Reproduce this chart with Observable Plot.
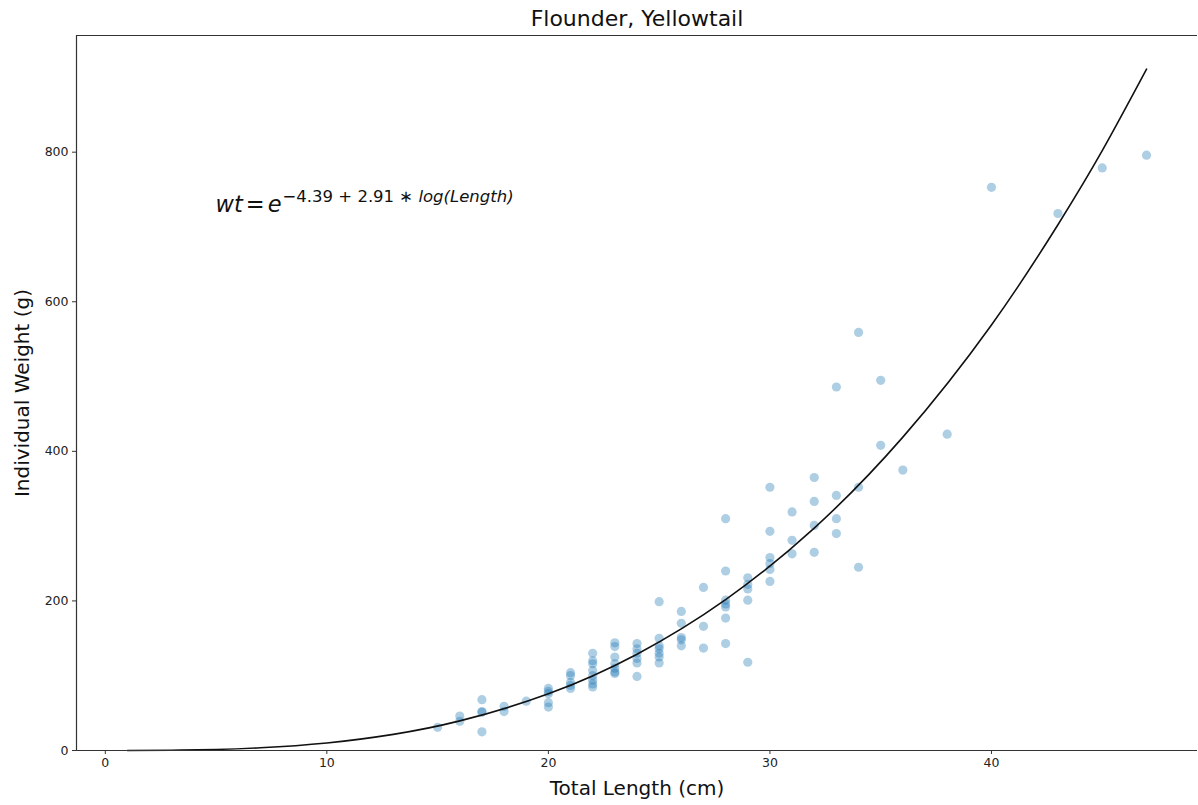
<!DOCTYPE html>
<html>
<head>
<meta charset="utf-8">
<script src="https://cdn.jsdelivr.net/npm/d3@7"></script>
<script src="https://cdn.jsdelivr.net/npm/@observablehq/plot@0.6"></script>
<style>
  html, body { margin: 0; padding: 0; background: #fff; }
  svg { font-family: "DejaVu Sans", sans-serif; }
</style>
</head>
<body>
<div id="chart"></div>
<script>
// Observed fish: total length (cm) and individual weight (g)
const lengths = [
  15,
  16, 16,
  17, 17, 17, 17,
  18, 18,
  19,
  20, 20, 20, 20, 20,
  21, 21, 21, 21, 21,
  22, 22, 22, 22, 22, 22, 22, 22,
  23, 23, 23, 23, 23, 23, 23,
  24, 24, 24, 24, 24, 24,
  25, 25, 25, 25, 25, 25, 25,
  26, 26, 26, 26, 26,
  27, 27, 27,
  28, 28, 28, 28, 28, 28, 28,
  29, 29, 29, 29, 29,
  30, 30, 30, 30, 30, 30,
  31, 31, 31,
  32, 32, 32, 32,
  33, 33, 33, 33,
  34, 34, 34,
  35, 35,
  36,
  38,
  40,
  43,
  45,
  47
];
const weights = [
  31,
  46, 39,
  68, 52, 51, 25,
  59, 52,
  66,
  83, 79, 76, 64, 58,
  104, 100, 91, 87, 83,
  130, 120, 116, 107, 100, 94, 89, 85,
  144, 139, 125, 116, 110, 105, 103,
  143, 136, 130, 123, 117, 99,
  199, 150, 140, 136, 130, 125, 117,
  186, 170, 151, 148, 140,
  218, 166, 137,
  310, 240, 201, 196, 192, 177, 143,
  231, 222, 216, 201, 118,
  352, 293, 258, 250, 242, 226,
  319, 281, 263,
  365, 333, 301, 265,
  486, 341, 310, 290,
  559, 352, 245,
  495, 408,
  375,
  423,
  753,
  718,
  779,
  796
];

const fitLengths = [1, 3, 5, 7, 10, 13, 16, 20, 24, 28, 32, 36, 40, 43, 45, 47];
const fitWeights = [0.01, 0.3, 1.3, 3.6, 10.1, 21.6, 39.6, 75.8, 128.8, 201.7, 297.4, 419, 569, 703, 802, 911];

const xTicks = [0, 10, 20, 30, 40];
const yTicks = [0, 200, 400, 600, 800];
const xDomain = [-1.3, 49.3];
const yDomain = [0, 956];

const titleText = "Flounder, Yellowtail";
const xLabel = "Total Length (cm)";
const yLabel = "Individual Weight (g)";
const eqPos = {x: 5, y: 720};

const points = lengths.map((l, i) => ({length: l, weight: weights[i]}));
const fit = fitLengths.map((l, i) => ({length: l, weight: fitWeights[i]}));

const spine = "#333333";

const plot = Plot.plot({
  width: 1198,
  height: 805,
  marginTop: 35,
  marginBottom: 55,
  marginLeft: 76,
  marginRight: 1,
  style: {fontFamily: "DejaVu Sans, sans-serif", background: "#fff", color: "#000"},
  x: {domain: xDomain, label: null},
  y: {domain: yDomain, label: null},
  marks: [
    Plot.dot(points, {x: "length", y: "weight", r: 4.6, fill: "#1f77b4", fillOpacity: 0.36, stroke: "none"}),
    Plot.line(fit, {x: "length", y: "weight", stroke: "#111", strokeWidth: 1.6, curve: "natural"}),
    Plot.ruleX([xDomain[0]], {stroke: spine, strokeWidth: 1.2}),
    Plot.ruleY([yDomain[0]], {stroke: spine, strokeWidth: 1.2}),
    Plot.ruleY([yDomain[1]], {stroke: spine, strokeWidth: 1.2}),
    Plot.axisX(xTicks, {tickSize: 4, tickPadding: 4, fontSize: 12.5, stroke: spine, fill: "#222", label: null}),
    Plot.axisY(yTicks, {tickSize: 4, tickPadding: 4, fontSize: 12.5, stroke: spine, fill: "#222", label: null}),
    Plot.text([titleText], {frameAnchor: "top", dy: -17, lineAnchor: "middle", fontSize: 22, fill: "#111"}),
    Plot.text([xLabel], {frameAnchor: "bottom", dy: 38, lineAnchor: "middle", fontSize: 20, fill: "#111"}),
    Plot.text([yLabel], {frameAnchor: "left", dx: -54, rotate: -90, textAnchor: "middle", lineAnchor: "middle", fontSize: 20, fill: "#111"})
  ]
});

// Equation annotation, positioned via the plot's own scales
const sx = plot.scale("x"), sy = plot.scale("y");
const ex = sx.apply(eqPos.x), ey = sy.apply(eqPos.y);
const svg = d3.select(plot);
const t = svg.append("text")
  .attr("x", ex).attr("y", ey)
  .attr("text-anchor", "start")
  .attr("font-family", "DejaVu Sans, sans-serif")
  .attr("font-size", 22.5)
  .attr("fill", "#111");
t.append("tspan").attr("font-style", "italic").text("wt");
t.append("tspan").attr("dx", 3).text("=");
t.append("tspan").attr("dx", 3).attr("font-style", "italic").text("e");
t.append("tspan").attr("font-size", 16.5).attr("dy", -10).attr("dx", 1).text("\u22124.39 + 2.91 \u2217 ");
t.append("tspan").attr("font-size", 16.5).attr("font-style", "italic").text("log(Length)");

document.getElementById("chart").appendChild(plot);
</script>
</body>
</html>
